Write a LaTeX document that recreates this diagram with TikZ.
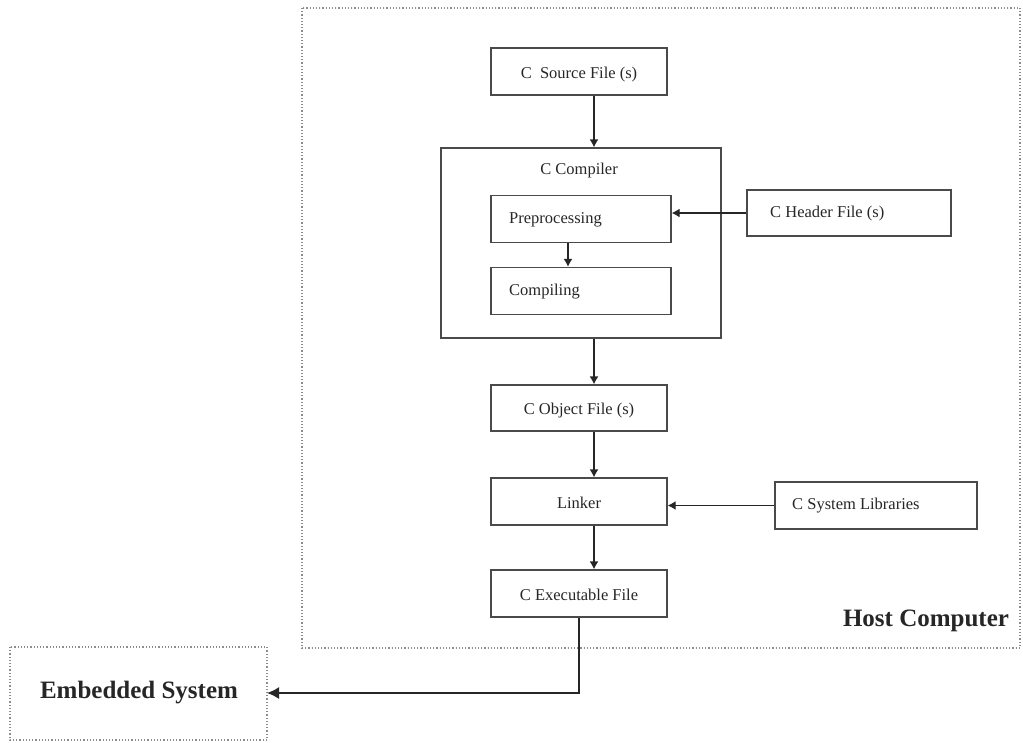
\documentclass[tikz,border=0pt]{standalone}
\usepackage{fontspec}
\setmainfont{Liberation Serif}
\usetikzlibrary{arrows.meta}
\definecolor{boxline}{HTML}{4A4A4A}
\definecolor{ink}{HTML}{262626}
\definecolor{dotline}{HTML}{8C8C8C}
\begin{document}
\begin{tikzpicture}[x=1pt,y=-1pt,
  box/.style={draw=boxline, line width=1.3pt, text=ink, inner sep=0pt,
    font=\fontsize{16.5}{18}\selectfont, text height=13pt, text depth=0pt},
  txt/.style={text=ink, inner sep=0pt, font=\fontsize{16.5}{18}\selectfont},
  region/.style={draw=dotline, line width=1.2pt, dotted},
  flow/.style={draw=ink, line width=1.3pt, -{Latex[length=8pt,width=9pt]}},
  bigflow/.style={draw=ink, line width=1.5pt, -{Latex[length=12pt,width=12pt]}},
  bigtxt/.style={text=ink, font=\bfseries\fontsize{25}{28}\selectfont, inner sep=0pt}]
\useasboundingbox (0,0) rectangle (1023,742);

% dotted enclosures
\draw[region] (302,8) rectangle (1020,648);
\draw[region] (10,647) rectangle (267,740);
\node[bigtxt] (host) at (926,621) {Host Computer};
\node[bigtxt] (emb) at (139,693) {Embedded System};
\coordinate (embE) at (267,693);

% compiler group
\node[box, minimum width=280pt, minimum height=190pt] (comp) at (581,243) {};
\node[txt] (compl) at (579,171) {C Compiler};
\node[box, minimum width=180pt, minimum height=47pt] (pre) at (581,219) {};
\node[txt, anchor=west] (pretxt) at (509,219.5) {Preprocessing};
\node[box, minimum width=180pt, minimum height=47pt] (cmp) at (581,291) {};
\node[txt, anchor=west] (cmptxt) at (509,291.5) {Compiling};

% main chain
\node[box, minimum width=176pt, minimum height=47pt] (src) at (579,71.5) {C\ \ Source File (s)};
\node[box, minimum width=176pt, minimum height=46pt] (obj) at (579,408) {C Object File (s)};
\node[box, minimum width=176pt, minimum height=47pt] (lnk) at (579,501.5) {Linker};
\node[box, minimum width=176pt, minimum height=47pt] (exe) at (579,593.5) {C Executable File};

% side inputs
\node[box, minimum width=204pt, minimum height=46pt] (hdr) at (849,213) {};
\node[txt, anchor=west] (hdrtxt) at (770,214) {C Header File (s)};
\node[box, minimum width=202pt, minimum height=47pt] (lib) at (876,505.5) {};
\node[txt, anchor=west] (libtxt) at (792,506) {C System Libraries};

% connectors
\draw[flow] (src.south -| 594,0) -- (comp.north -| 594,0);
\draw[flow] (pre.south -| 568,0) -- (cmp.north -| 568,0);
\draw[flow] (hdr.west) -- (pre.east |- hdr.west);
\draw[flow] (comp.south -| 594,0) -- (obj.north -| 594,0);
\draw[flow] (obj.south -| 594,0) -- (lnk.north -| 594,0);
\draw[flow] (lib.west) -- (lnk.east |- lib.west);
\draw[flow] (lnk.south -| 594,0) -- (exe.north -| 594,0);
\draw[bigflow] (exe.south -| 579,0) -- (579,693) -- (embE);
\end{tikzpicture}
\end{document}
